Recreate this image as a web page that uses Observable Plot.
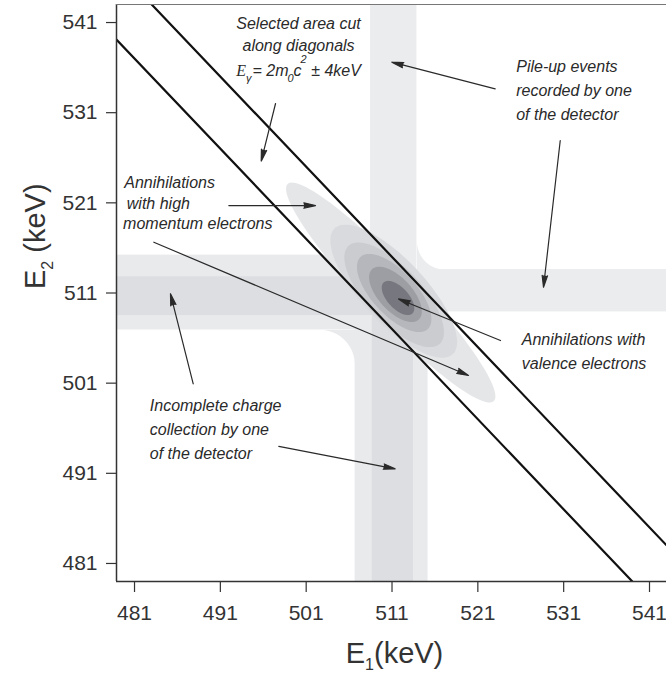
<!DOCTYPE html>
<html><head><meta charset="utf-8">
<script src="https://cdn.jsdelivr.net/npm/d3@7"></script>
<script src="https://cdn.jsdelivr.net/npm/@observablehq/plot@0.6"></script>
<style>
body{margin:0;background:#fff;}
#chart svg{display:block;}
</style></head><body><div id="chart"></div>
<script>
// ---- axes ----
const xTicks = [481, 491, 501, 511, 521, 531, 541];
const yTicks = [481, 491, 501, 511, 521, 531, 541];
const xDomain = [478.9, 542.98];
const yDomain = [479.0, 543.0];

// ---- diagonal cut: E1 + E2 = 2m0c² ± 4 keV ----
const diagSums = [1018, 1026];

// ---- detector bands (keV) ----
const bandE1lo = [478.9, 506.7, 478.9, 508.7, 508.5, 511.0];
const bandE1hi = [511.0, 515.2, 511.0, 513.5, 513.9, 542.98];
const bandE2lo = [506.9, 479.0, 508.5, 479.0, 511.0, 508.9];
const bandE2hi = [515.2, 511.0, 512.8, 511.0, 543.0, 513.6];
const bandFill = ["#e9eaec", "#e9eaec", "#dcdee1", "#dcdee1", "#ebeced", "#ebeced"];

// ---- rounded corners where bands meet ----
const filletE1 = [513.9, 506.7];
const filletE2 = [513.6, 506.9];
const filletR = [3.2, 4.0];
const filletSx = [1, -1];
const filletSy = [1, -1];
const filletFill = ["#ebeced", "#e9eaec"];

// ---- annihilation peak contours (rotated 45°) ----
const ellipseE1 = [510.85, 511.2, 511.25, 511.25, 511.4, 511.7];
const ellipseE2 = [511.05, 511.2, 510.8, 511.0, 510.85, 510.45];
const ellipseA = [17.0, 9.8, 7.6, 5.6, 3.9, 2.4];
const ellipseB = [2.9, 3.6, 3.1, 2.5, 1.9, 1.2];
const ellipseFill = ["#e5e6e8", "#d9dadd", "#cbccd0", "#b6b7bc", "#9d9ea4", "#77787f"];

// ---- arrows (keV) ----
const arrowFromE1 = [497.43, 523.02, 530.60, 491.99, 483.25, 523.64, 487.84, 497.81];
const arrowFromE2 = [532.02, 533.65, 527.91, 520.70, 516.63, 505.73, 500.93, 493.98];
const arrowToE1 = [495.76, 510.98, 528.65, 502.09, 519.91, 511.76, 485.19, 511.37];
const arrowToE2 = [525.62, 536.60, 511.64, 520.70, 501.85, 510.34, 510.91, 491.50];

// ---- annotations ----
const noteText = ["Selected area cut", "along diagonals", "Eγ = 2m0c2 ± 4keV",
  "Pile-up events", "recorded by one", "of the detector",
  "Annihilations", "with high", "momentum electrons",
  "Annihilations with", "valence electrons",
  "Incomplete charge", "collection by one", "of the detector"];
const noteE1 = [500.11, 500.11, 500.11, 525.47, 525.47, 525.47, 479.8, 480.1, 479.67, 526.12, 526.12, 482.78, 482.78, 482.78];
const noteE2 = [540.89, 538.45, 535.68, 536.04, 533.46, 530.76, 523.18, 520.89, 518.68, 505.79, 503.15, 498.52, 495.83, 493.17];
const noteAnchor = ["middle", "middle", "middle", "start", "start", "start", "start", "start", "start", "start", "start", "start", "start", "start"];

const xLabel = "E1(keV)";
const yLabel = "E2 (keV)";

// ---- build geometry tables from the parameters ----
const bands = bandFill.map((f, i) => ({x1: bandE1lo[i], x2: bandE1hi[i], y1: bandE2lo[i], y2: bandE2hi[i], f}));
function filletPoly(i) {
  const cx = filletE1[i], cy = filletE2[i], r = filletR[i], sx = filletSx[i], sy = filletSy[i];
  const Cx = cx + sx * r, Cy = cy + sy * r;
  const pts = [{x: cx, y: cy}];
  for (let k = 0; k <= 24; k++) {
    const t = (k / 24) * Math.PI / 2;
    pts.push({x: Cx - sx * r * Math.sin(t), y: Cy - sy * r * Math.cos(t)});
  }
  return pts;
}
function ellipsePoly(i) {
  const pts = [];
  const u = [Math.SQRT1_2, -Math.SQRT1_2], v = [Math.SQRT1_2, Math.SQRT1_2];
  for (let k = 0; k < 120; k++) {
    const t = (k / 120) * 2 * Math.PI;
    const a = ellipseA[i] * Math.cos(t), b = ellipseB[i] * Math.sin(t);
    pts.push({x: ellipseE1[i] + a * u[0] + b * v[0], y: ellipseE2[i] + a * u[1] + b * v[1]});
  }
  return pts;
}
const diagPts = diagSums.flatMap((s, i) => [{id: i, x: 470, y: s - 470}, {id: i, x: 560, y: s - 560}]);
const idx = arrowFromE1.map((_, i) => i);
const notes = noteText.map((t, i) => ({t, x: noteE1[i], y: noteE2[i], a: noteAnchor[i]}));

const font = "'Liberation Sans', Arial, Helvetica, sans-serif";
const ink = "#2a2a2a";

const marks = [];
marks.push(Plot.rect(bands, {x1: "x1", x2: "x2", y1: "y1", y2: "y2", fill: d => d.f, stroke: "none"}));
filletFill.forEach((f, i) => marks.push(Plot.line(filletPoly(i), {x: "x", y: "y", fill: f, stroke: "none", curve: "linear-closed"})));
ellipseFill.forEach((f, i) => marks.push(Plot.line(ellipsePoly(i), {x: "x", y: "y", fill: f, stroke: "none", curve: "linear-closed"})));
marks.push(Plot.line(diagPts, {x: "x", y: "y", z: "id", stroke: "#111", strokeWidth: 2.2, clip: true}));
marks.push(Plot.arrow(idx, {
  x1: i => arrowFromE1[i], y1: i => arrowFromE2[i], x2: i => arrowToE1[i], y2: i => arrowToE2[i],
  stroke: ink, fill: ink, strokeWidth: 1.2, headAngle: 26, headLength: 15
}));
["start", "middle"].forEach(anchor => {
  marks.push(Plot.text(notes.filter(d => d.a === anchor), {
    x: "x", y: "y", text: "t", textAnchor: anchor, lineAnchor: "middle",
    fontSize: 16, fontStyle: "italic", fill: ink, fontFamily: font
  }));
});
marks.push(Plot.ruleX([xDomain[0]], {stroke: "#333", strokeWidth: 1.5}));
marks.push(Plot.ruleY([yDomain[0]], {stroke: "#333", strokeWidth: 1.5}));
marks.push(Plot.ruleY([yDomain[1]], {stroke: "#777", strokeWidth: 1.2}));
marks.push(Plot.axisX({ticks: xTicks, tickSize: 11, tickPadding: 13, fontSize: 21, color: "#333", label: null, strokeWidth: 1.2}));
marks.push(Plot.axisY({ticks: yTicks, tickSize: 10, tickPadding: 9, fontSize: 21, color: "#333", label: null, strokeWidth: 1.2}));
marks.push(Plot.text([xLabel], {text: d => d, frameAnchor: "bottom", dy: 72, dx: 3, fontSize: 29, fill: "#333", fontFamily: font, lineAnchor: "middle"}));
marks.push(Plot.text([yLabel], {text: d => d, frameAnchor: "left", dx: -81, dy: -4, rotate: -90, fontSize: 29, fill: "#333", fontFamily: font, lineAnchor: "middle"}));

const plot = Plot.plot({
  width: 666, height: 676,
  marginLeft: 116, marginRight: 0, marginTop: 4, marginBottom: 95,
  x: {domain: xDomain}, y: {domain: yDomain},
  style: {fontFamily: font, background: "#fff"},
  marks
});

function rich(svg, plain, parts) {
  svg.querySelectorAll("text").forEach(t => {
    if (t.textContent !== plain) return;
    while (t.firstChild) t.removeChild(t.firstChild);
    let shift = 0;
    for (const p of parts) {
      const s = document.createElementNS("http://www.w3.org/2000/svg", "tspan");
      s.textContent = p.t;
      const target = p.dy || 0;
      s.setAttribute("dy", target - shift);
      shift = target;
      if (p.size) s.setAttribute("font-size", p.size);
      if (p.family) s.setAttribute("font-family", p.family);
      if (p.dx) s.setAttribute("dx", p.dx);
      t.appendChild(s);
    }
  });
}
rich(plot, "Eγ = 2m0c2 ± 4keV", [
  {t: "E", family: "'Liberation Serif', 'Times New Roman', serif", size: 16},
  {t: "γ", dy: 6, size: 11, dx: 0},
  {t: "= 2m", dy: 0, dx: 1},
  {t: "0", dy: 6, size: 11, dx: -1},
  {t: "c", dy: 0},
  {t: "2", dy: -13, size: 11, dx: -1},
  {t: " ± 4keV", dy: 0}
]);
rich(plot, xLabel, [{t: "E"}, {t: "1", dy: 7, size: 16}, {t: "(keV)", dy: 0}]);
rich(plot, yLabel, [{t: "E"}, {t: "2", dy: 8, size: 16}, {t: " (keV)", dy: 0}]);

document.getElementById("chart").appendChild(plot);
</script>
</body></html>
